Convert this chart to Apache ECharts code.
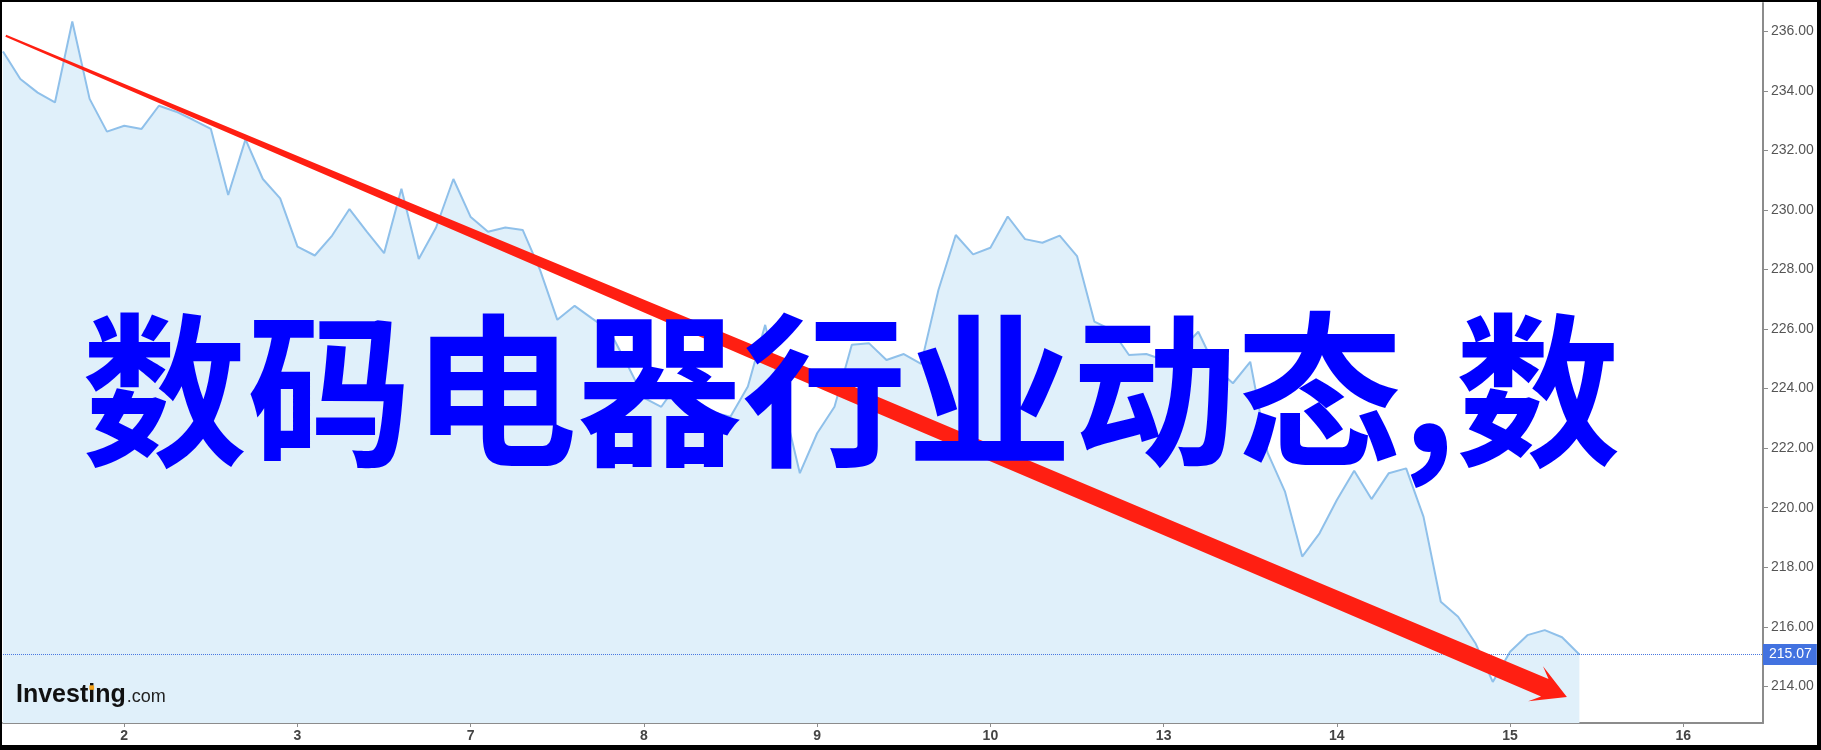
<!DOCTYPE html>
<html><head><meta charset="utf-8">
<script src="https://cdn.jsdelivr.net/npm/echarts@6/dist/echarts.min.js"></script>
<style>
html,body{margin:0;padding:0;background:#000;width:1821px;height:750px;overflow:hidden}
#c{position:absolute;left:2px;top:2px;width:1815px;height:743px;background:#fff}
</style></head><body><div id="c"></div>
<script>
// ---- data ----
const prices = [
  235.32, 234.40, 233.94, 233.61, 236.33, 233.73, 232.63, 232.83, 232.72, 233.50,
  233.30, 233.02, 232.72, 230.50, 232.37, 231.04, 230.39, 228.77, 228.47, 229.14,
  230.03, 229.27, 228.55, 230.71, 228.35, 229.41, 231.04, 229.76, 229.27, 229.41,
  229.33, 227.99, 226.31, 226.78, 226.36, 225.95, 224.85, 223.69, 223.39, 224.20,
  223.60, 223.20, 223.06, 224.07, 226.14, 223.60, 221.16, 222.50, 223.39, 225.47,
  225.52, 224.96, 225.16, 224.83, 227.31, 229.16, 228.51, 228.73, 229.78, 229.02,
  228.90, 229.14, 228.45, 226.25, 225.97, 225.13, 225.16, 224.96, 225.30, 225.91,
  224.70, 224.18, 224.90, 221.85, 220.55, 218.36, 219.14, 220.26, 221.24, 220.29,
  221.16, 221.32, 219.70, 216.84, 216.34, 215.45, 214.15, 215.16, 215.72, 215.89,
  215.65, 215.07
];
const dayLabels = ['2', '3', '7', '8', '9', '10', '13', '14', '15', '16'];
const dayTickIndex = [7, 17, 27, 37, 47, 57, 67, 77, 87, 97];
const yTicks = [214, 216, 218, 220, 222, 224, 226, 228, 230, 232, 234, 236];
const lastPrice = 215.07;
const titleText = '数码电器行业动态,数';
const logoMain = 'Investing';
const logoSuffix = '.com';
const arrowFrom = [0.16, 235.85];
const arrowTo = [90.28, 213.64];

// ---- chart ----
const chart = echarts.init(document.getElementById('c'), null, {renderer: 'canvas'});
const seriesData = prices.map((v, i) => [i, v]);
const labelByIndex = {};
dayTickIndex.forEach((t, i) => { labelByIndex[t] = dayLabels[i]; });

chart.setOption({
  animation: false,
  backgroundColor: '#ffffff',
  grid: {left: 1, right: 54, top: 1, bottom: 22, containLabel: false},
  xAxis: {
    type: 'value', min: 0, max: 101.6,
    axisLine: {show: true, onZero: false, lineStyle: {color: '#8c8c8c', width: 2}},
    axisTick: {show: true, length: 4, customValues: dayTickIndex, lineStyle: {color: '#8c8c8c', width: 1}},
    axisLabel: {
      show: true, customValues: dayTickIndex, margin: 6,
      formatter: v => labelByIndex[Math.round(v)] || '',
      color: '#444', fontSize: 14, fontWeight: 'bold',
      fontFamily: '"Liberation Sans Narrow", "Liberation Sans", Arial, sans-serif'
    },
    splitLine: {show: false}
  },
  yAxis: {
    type: 'value', position: 'right', min: 212.77, max: 236.95, scale: true,
    axisLine: {show: true, onZero: false, lineStyle: {color: '#8c8c8c', width: 2}},
    axisTick: {show: true, inside: false, length: 5, customValues: yTicks, lineStyle: {color: '#8c8c8c', width: 1}},
    axisLabel: {
      show: true, customValues: yTicks, margin: 8,
      formatter: v => Number(v).toFixed(2),
      color: '#555', fontSize: 14, fontFamily: '"Liberation Sans", Arial, sans-serif'
    },
    splitLine: {show: false}
  },
  series: [{
    type: 'line',
    data: seriesData,
    symbol: 'none', showSymbol: false, silent: true,
    lineStyle: {color: '#8fc0ea', width: 2},
    areaStyle: {color: '#e0f0fa', opacity: 1, origin: 'start'},
    markLine: {
      silent: true, symbol: 'none', animation: false,
      data: [{yAxis: lastPrice}],
      lineStyle: {type: 'dotted', color: '#4a78e0', width: 1},
      label: {
        show: true, position: 'end', distance: 0,
        formatter: () => lastPrice.toFixed(2),
        color: '#fff', backgroundColor: '#4272e0', padding: [4, 5, 3, 6],
        fontSize: 14, fontFamily: '"Liberation Sans", Arial, sans-serif'
      }
    }
  }]
});

// ---- overlays ----
function buildArrow() {
  const p0 = chart.convertToPixel({gridIndex: 0}, arrowFrom);
  const p1 = chart.convertToPixel({gridIndex: 0}, arrowTo);
  const dx = p1[0] - p0[0], dy = p1[1] - p0[1];
  const L = Math.hypot(dx, dy);
  const u = [dx / L, dy / L], n = [-u[1], u[0]];
  const shaftLen = L - 24;
  const prof = [[0, 1], [0.25, 3.9], [0.55, 7.6], [0.85, 8.6], [1, 9.5]];
  const pt = (s, w) => [p0[0] + u[0] * s + n[0] * w, p0[1] + u[1] * s + n[1] * w];
  const upper = prof.map(([t, w]) => pt(t * shaftLen, -w));
  const lower = prof.map(([t, w]) => pt(t * shaftLen, w)).reverse();
  const head = [pt(L - 34, -19), pt(L, 0), pt(L - 34, 19)];
  return upper.concat(head, lower);
}

const meas = document.createElement('canvas').getContext('2d');
const logoSize = 25;
meas.font = 'bold ' + logoSize + 'px "Liberation Sans"';
const wMain = meas.measureText(logoMain).width;
const wInvest = meas.measureText('Invest').width;
const wI = meas.measureText('i').width;
const logoX = 14, logoBase = 702;

chart.setOption({
  graphic: [
    {type: 'polygon', z: 50, silent: true, shape: {points: buildArrow()}, style: {fill: '#ff1f12'}},
    {type: 'text', z: 100, silent: true, x: 80, y: 388,
      style: {text: titleText, fill: '#0000ff', fontSize: 165, fontWeight: 'bold',
        fontFamily: '"Noto Sans CJK SC", sans-serif', verticalAlign: 'middle', align: 'left'}},
    {type: 'text', z: 60, silent: true, x: logoX, y: logoBase - 8.5,
      style: {text: logoMain, fill: '#111', fontSize: logoSize, fontWeight: 'bold',
        fontFamily: '"Liberation Sans", Arial, sans-serif', verticalAlign: 'middle'}},
    {type: 'rect', z: 61, silent: true,
      shape: {x: logoX + wInvest + wI / 2 - 2.4, y: logoBase - 18.6, width: 4.8, height: 4.4},
      style: {fill: '#f5a31a'}},
    {type: 'text', z: 60, silent: true, x: logoX + wMain + 1, y: logoBase - 6.5,
      style: {text: logoSuffix, fill: '#222', fontSize: 18,
        fontFamily: '"Liberation Sans", Arial, sans-serif', verticalAlign: 'middle'}}
  ]
});
</script>
</body></html>
